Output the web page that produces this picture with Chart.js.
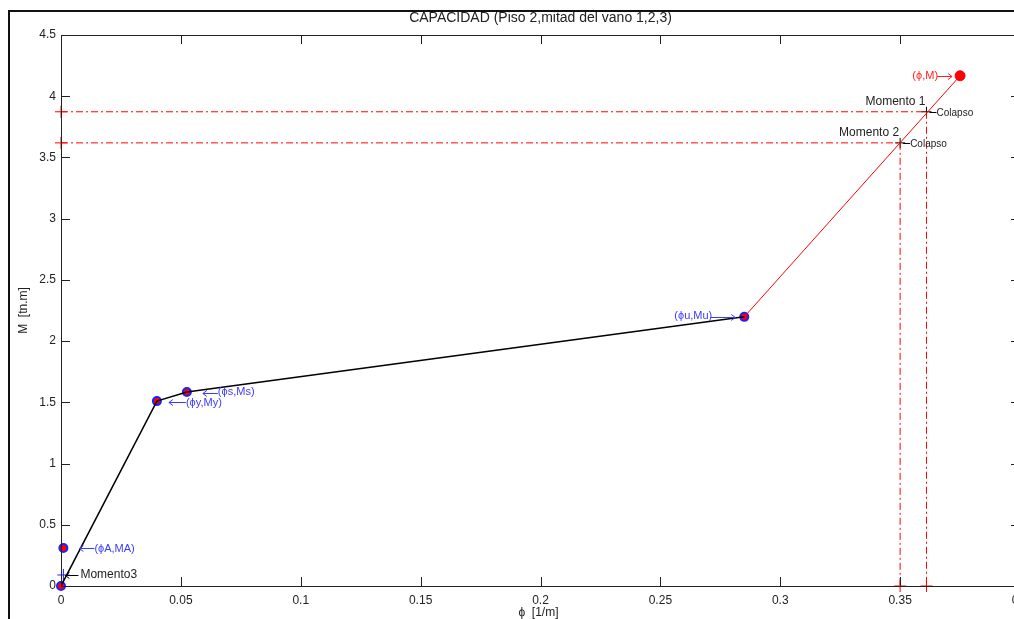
<!DOCTYPE html>
<html>
<head>
<meta charset="utf-8">
<script src="https://cdn.jsdelivr.net/npm/chart.js@4.4.1/dist/chart.umd.min.js"></script>
<style>
  html, body { margin: 0; padding: 0; background: #fff; overflow: hidden; }
  #wrap { position: relative; width: 1014px; height: 619px; overflow: hidden; }
  #frame { position: absolute; left: 8px; top: 10px; width: 1010px; height: 620px;
           border-left: 2px solid #111; border-top: 2px solid #111; pointer-events: none; }
  canvas { position: absolute; left: 0; top: 0; }
</style>
</head>
<body>
<div id="wrap">
  <canvas id="myChart" width="1040" height="619"></canvas>
  <div id="frame"></div>
</div>
<script>
// capacity curve (phi, M)
const curvePhi = [0, 0.040, 0.0525, 0.285];
const curveM = [0, 1.51, 1.585, 2.198];
const redPhi = [0.285, 0.375];
const redM = [2.198, 4.167];

// marked points
const markPhi = [0, 0.001, 0.040, 0.0525, 0.285];
const markM = [0, 0.31, 1.51, 1.585, 2.198];
const markNames = ["", "(ϕA,MA)", "(ϕy,My)", "(ϕs,Ms)", "(ϕu,Mu)"];

// collapse moments
const momentNames = ["Momento 1", "Momento 2"];
const momentM = [3.873, 3.619];
const momentPhi = [0.361, 0.350];
const momento3 = { phi: 0.001, M: 0.09 };

const xTicks = [0, 0.05, 0.1, 0.15, 0.2, 0.25, 0.3, 0.35, 0.4];
const yTicks = [0, 0.5, 1, 1.5, 2, 2.5, 3, 3.5, 4, 4.5];

const pts = (xs, ys) => xs.map((x, i) => ({ x: x, y: ys[i] }));
const dashDot = [7, 3, 2, 3];

let datasets = [];
momentM.forEach((m, i) => {
  datasets.push({ data: pts([0, momentPhi[i]], [m, m]), borderColor: '#ff0000', borderWidth: 1,
    borderDash: dashDot, showLine: true, pointRadius: 0 });
  datasets.push({ data: pts([momentPhi[i], momentPhi[i]], [m, 0]), borderColor: '#ff0000', borderWidth: 1,
    borderDash: dashDot, showLine: true, pointRadius: 0 });
});
datasets.push({ data: pts(curvePhi, curveM), borderColor: '#000', borderWidth: 1.5, showLine: true, pointRadius: 0 });
datasets.push({ data: pts(redPhi, redM), borderColor: '#ff0000', borderWidth: 1, showLine: true, pointRadius: 0 });
datasets.push({ data: pts(markPhi, markM), showLine: false, pointRadius: 4, pointBackgroundColor: '#ff0000',
  pointBorderColor: '#1f1fff', pointBorderWidth: 2, clip: false });
datasets.push({ data: pts([redPhi[1]], [redM[1]]), showLine: false, pointRadius: 5, pointBackgroundColor: '#ff0000',
  pointBorderColor: '#ff0000', clip: false });
// red crosses at the ends of the moment lines
datasets.push({ data: pts([0, 0, momentPhi[0], momentPhi[1]], [momentM[0], momentM[1], 0, 0]), showLine: false,
  pointStyle: 'cross', pointRadius: 6, pointBorderColor: '#ff0000', pointBorderWidth: 1, clip: false });
// black crosses at the collapse points
datasets.push({ data: pts(momentPhi, momentM), showLine: false, pointStyle: 'cross', pointRadius: 5,
  pointBorderColor: '#000', pointBorderWidth: 1, clip: false });
datasets.push({ data: [{ x: momento3.phi, y: momento3.M }], showLine: false, pointStyle: 'cross', pointRadius: 6,
  pointBorderColor: '#1f1fff', pointBorderWidth: 1, clip: false });

const fmt = v => String(+v.toFixed(3));

// little arrow from x1 to x2, head at x2
function arrow(ctx, x1, x2, y, color) {
  const d = x2 > x1 ? 1 : -1;
  ctx.save();
  ctx.strokeStyle = color;
  ctx.lineWidth = 1;
  y = Math.round(y) + 0.5;
  ctx.beginPath();
  ctx.moveTo(x1, y); ctx.lineTo(x2, y);
  ctx.moveTo(x2 - d * 4, y - 3); ctx.lineTo(x2, y); ctx.lineTo(x2 - d * 4, y + 3);
  ctx.stroke();
  ctx.restore();
}

const extras = {
  id: 'extras',
  afterDraw(chart) {
    const ctx = chart.ctx;
    const a = chart.chartArea;
    const sx = chart.scales.x, sy = chart.scales.y;
    const X = v => sx.getPixelForValue(v), Y = v => sy.getPixelForValue(v);
    ctx.save();
    // box and inward ticks
    ctx.strokeStyle = '#222';
    ctx.lineWidth = 1;
    ctx.strokeRect(a.left + 0.5, a.top + 0.5, a.right - a.left, a.bottom - a.top);
    ctx.beginPath();
    xTicks.forEach(t => {
      const p = Math.round(X(t)) + 0.5;
      ctx.moveTo(p, a.bottom); ctx.lineTo(p, a.bottom - 9);
      ctx.moveTo(p, a.top); ctx.lineTo(p, a.top + 9);
    });
    yTicks.forEach(t => {
      const p = Math.round(Y(t)) + 0.5;
      ctx.moveTo(a.left, p); ctx.lineTo(a.left + 9, p);
      ctx.moveTo(a.right, p); ctx.lineTo(a.right - 9, p);
    });
    ctx.stroke();

    // title and axis names
    ctx.fillStyle = '#222';
    ctx.font = '14px "Liberation Sans", Arial, sans-serif';
    ctx.textAlign = 'center';
    ctx.textBaseline = 'middle';
    ctx.fillText('CAPACIDAD (Piso 2,mitad del vano 1,2,3)', (a.left + a.right) / 2, 18);
    ctx.font = '12px "Liberation Sans", Arial, sans-serif';
    ctx.fillText('ϕ  [1/m]', (a.left + a.right) / 2 - 2, 613);
    ctx.save();
    ctx.translate(24, (a.top + a.bottom) / 2);
    ctx.rotate(-Math.PI / 2);
    ctx.fillText('M  [tn.m]', 0, 0);
    ctx.restore();

    // point labels
    const blue = '#3a3aff';
    ctx.font = '11px "Liberation Sans", Arial, sans-serif';
    ctx.fillStyle = blue;
    ctx.textAlign = 'left';
    let px, py;
    px = X(markPhi[1]); py = Y(markM[1]);
    arrow(ctx, px + 31, px + 16, py, blue);
    ctx.fillText(markNames[1], px + 31, py + 1);
    px = X(markPhi[2]); py = Y(markM[2]);
    arrow(ctx, px + 29, px + 12, py + 1, blue);
    ctx.fillText(markNames[2], px + 29, py + 2);
    px = X(markPhi[3]); py = Y(markM[3]);
    arrow(ctx, px + 31, px + 16, py + 1, blue);
    ctx.fillText(markNames[3], px + 31, py);
    ctx.textAlign = 'right';
    px = X(markPhi[4]); py = Y(markM[4]);
    ctx.fillText(markNames[4], px - 32, py - 1);
    arrow(ctx, px - 34, px - 9, py, blue);
    ctx.fillStyle = '#ff2020';
    px = X(redPhi[1]); py = Y(redM[1]);
    ctx.fillText('(ϕ,M)', px - 22, py);
    arrow(ctx, px - 23, px - 8, py, '#ff2020');

    // moment labels
    ctx.fillStyle = '#222';
    ctx.font = '12px "Liberation Sans", Arial, sans-serif';
    momentNames.forEach((n, i) => {
      ctx.textAlign = 'right';
      ctx.fillText(n, X(momentPhi[i]) - 1, Y(momentM[i]) - 10);
    });
    ctx.font = '10px "Liberation Sans", Arial, sans-serif';
    ctx.textAlign = 'left';
    ctx.strokeStyle = '#000';
    ctx.beginPath();
    momentPhi.forEach((p, i) => {
      const qx = X(p), qy = Math.round(Y(momentM[i])) + 0.5;
      ctx.moveTo(qx + 3, qy); ctx.lineTo(qx + 10, qy);
    });
    ctx.stroke();
    momentPhi.forEach((p, i) => ctx.fillText('Colapso', X(p) + 10, Y(momentM[i]) + 1));
    ctx.font = '12px "Liberation Sans", Arial, sans-serif';
    px = X(momento3.phi); py = Y(momento3.M);
    arrow(ctx, px + 15, px + 2, py, '#000');
    ctx.fillText('Momento3', px + 17, py);
    ctx.restore();
  }
};

new Chart(document.getElementById('myChart'), {
  type: 'scatter',
  data: { datasets: datasets },
  options: {
    responsive: false,
    animation: false,
    layout: { padding: { top: 35, right: 20, left: 0, bottom: 0 } },
    plugins: { legend: { display: false }, title: { display: false }, tooltip: { enabled: false } },
    scales: {
      x: {
        type: 'linear', min: 0, max: 0.4,
        afterBuildTicks: s => { s.ticks = xTicks.map(v => ({ value: v })); },
        afterFit: s => { s.height = 33; },
        grid: { display: false, drawTicks: false }, border: { display: false },
        ticks: { callback: fmt, color: '#222', padding: 7, maxRotation: 0, autoSkip: false,
          font: { family: '"Liberation Sans", Arial, sans-serif', size: 12 } }
      },
      y: {
        type: 'linear', min: 0, max: 4.5,
        afterBuildTicks: s => { s.ticks = yTicks.map(v => ({ value: v })); },
        afterFit: s => { s.width = 61; },
        grid: { display: false, drawTicks: false }, border: { display: false },
        ticks: { callback: fmt, color: '#222', padding: 5, autoSkip: false,
          font: { family: '"Liberation Sans", Arial, sans-serif', size: 12 } }
      }
    }
  },
  plugins: [extras]
});
</script>
</body>
</html>
